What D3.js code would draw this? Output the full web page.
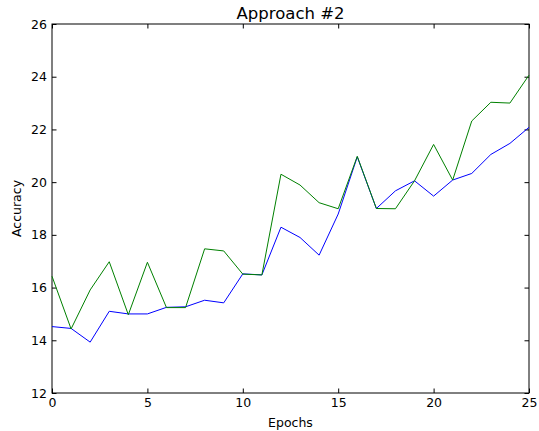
<!DOCTYPE html>
<html>
<head>
<meta charset="utf-8">
<script src="https://cdn.jsdelivr.net/npm/d3@7"></script>
<style>
  body { margin: 0; background: #fff; }
  svg text { font-family: "DejaVu Sans", sans-serif; fill: #000; }
</style>
</head>
<body>
<div class="canvas"></div>
<script>
// data
const epochs = d3.range(0, 26);
const blueAcc = [14.52, 14.45, 13.93, 15.1, 15.0, 15.0, 15.25, 15.27, 15.52, 15.42,
                 16.52, 16.48, 18.29, 17.9, 17.23, 18.79, 20.96, 19.0, 19.67, 20.05,
                 19.47, 20.08, 20.33, 21.05, 21.47, 22.08];
const greenAcc = [16.43, 14.43, 15.91, 16.98, 14.97, 16.96, 15.24, 15.24, 17.47, 17.39,
                  16.51, 16.48, 20.3, 19.89, 19.22, 18.99, 20.98, 19.0, 18.99, 20.05,
                  21.43, 20.08, 22.32, 23.03, 23.0, 24.06];
const xTicks = [0, 5, 10, 15, 20, 25];
const yTicks = [12, 14, 16, 18, 20, 22, 24, 26];

// set the dimensions and margins of the graph
const W = 539, H = 431;
const margin = {top: 24, right: 10, bottom: 38, left: 52},
    width = 529 - margin.left,
    height = 393 - margin.top;

const svg = d3.select(".canvas")
  .append("svg")
    .attr("width", W)
    .attr("height", H)
  .append("g")
    .attr("transform", `translate(${margin.left},${margin.top})`);

const x = d3.scaleLinear().domain([0, 25]).range([0, width]);
const y = d3.scaleLinear().domain([12, 26]).range([height, 0]);

// axes, ticks pointing inwards on all sides
const tickLen = 4.5;
svg.append("g")
    .attr("transform", `translate(0,${height})`)
    .call(d3.axisBottom(x).tickValues(xTicks).tickSizeInner(-tickLen).tickSizeOuter(0).tickPadding(5))
    .call(g => g.selectAll("text").style("font-size", "12.5px"));
svg.append("g")
    .call(d3.axisTop(x).tickValues(xTicks).tickSizeInner(-tickLen).tickSizeOuter(0).tickFormat(""));
svg.append("g")
    .call(d3.axisLeft(y).tickValues(yTicks).tickSizeInner(-tickLen).tickSizeOuter(0).tickPadding(5))
    .call(g => g.selectAll("text").style("font-size", "12.5px"));
svg.append("g")
    .attr("transform", `translate(${width},0)`)
    .call(d3.axisRight(y).tickValues(yTicks).tickSizeInner(-tickLen).tickSizeOuter(0).tickFormat(""));
svg.selectAll(".domain").remove();

// frame
svg.append("rect")
    .attr("width", width)
    .attr("height", height)
    .attr("fill", "none")
    .attr("stroke", "#000")
    .attr("stroke-width", 1);

const line = d3.line()
    .x((d, i) => x(epochs[i]))
    .y(d => y(d));

svg.append("path")
    .datum(blueAcc)
    .attr("fill", "none")
    .attr("stroke", "#0000ff")
    .attr("stroke-width", 1)
    .attr("d", line);

svg.append("path")
    .datum(greenAcc)
    .attr("fill", "none")
    .attr("stroke", "#008000")
    .attr("stroke-width", 1)
    .attr("d", line);

// title
svg.append("text")
    .attr("text-anchor", "middle")
    .attr("x", width / 2)
    .attr("y", -5)
    .style("font-size", "16.5px")
    .text("Approach #2");

// x-axis label
svg.append("text")
    .attr("text-anchor", "middle")
    .attr("x", width / 2)
    .attr("y", height + 34)
    .style("font-size", "12.5px")
    .text("Epochs");

// y axis label
svg.append("text")
    .attr("text-anchor", "middle")
    .attr("transform", "rotate(-90)")
    .attr("x", -height / 2)
    .attr("y", -31)
    .style("font-size", "12.5px")
    .text("Accuracy");
</script>
</body>
</html>
